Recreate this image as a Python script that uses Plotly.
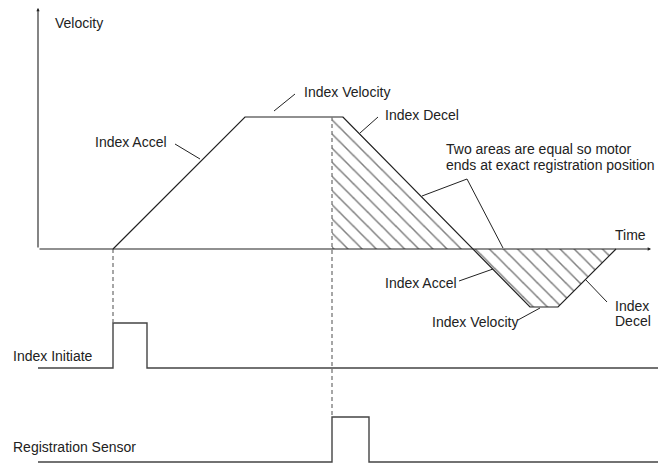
import plotly.graph_objects as go

# Perfil de velocidad (tiempo, velocidad) -- unidades del diagrama
profile_t = [75, 207, 305, 435, 492, 520, 578]
profile_v = [0, 132, 132, 0, -58, -58, 0]

# instante en que llega el sensor de registro
registration_t = 294

# Senales digitales (nivel 0/1)
initiate_t = [0, 75, 75, 109, 109, 620]
initiate_lvl = [0, 0, 1, 1, 0, 0]
sensor_t = [0, 294, 294, 331, 331, 620]
sensor_lvl = [0, 0, 1, 1, 0, 0]

# base y altura de cada fila de senal
initiate_base, sensor_base, pulse_h = -119, -213, 45

axis_end_t, axis_end_v = 613, 241

INK = '#222222'
FONT = 'Liberation Sans, Arial, sans-serif'

fig = go.Figure()

# zonas rayadas (areas iguales)
top_area_t = [registration_t, profile_t[2], profile_t[3], registration_t]
top_area_v = [profile_v[1], profile_v[2], profile_v[3], 0]
low_area_t = profile_t[3:]
low_area_v = profile_v[3:]

for xs, ys in [(top_area_t, top_area_v), (low_area_t, low_area_v)]:
    fig.add_trace(go.Scatter(
        x=xs, y=ys, fill='toself', mode='lines',
        line=dict(width=0), fillcolor='rgba(0,0,0,0)',
        fillpattern=dict(shape='\\', size=10, solidity=0.15,
                         fgcolor='#000000', bgcolor='rgba(0,0,0,0)'),
        hoverinfo='skip', showlegend=False))

# perfil
fig.add_trace(go.Scatter(x=profile_t, y=profile_v, mode='lines',
                         line=dict(color=INK, width=1.2),
                         showlegend=False, hoverinfo='skip'))

# senales
fig.add_trace(go.Scatter(x=initiate_t,
                         y=[initiate_base + pulse_h * l for l in initiate_lvl],
                         mode='lines', line=dict(color='#444444', width=1.4),
                         showlegend=False, hoverinfo='skip'))
fig.add_trace(go.Scatter(x=sensor_t,
                         y=[sensor_base + pulse_h * l for l in sensor_lvl],
                         mode='lines', line=dict(color='#444444', width=1.4),
                         showlegend=False, hoverinfo='skip'))

# lineas verticales discontinuas
fig.add_trace(go.Scatter(
    x=[initiate_t[1], initiate_t[1], None, registration_t, registration_t],
    y=[0, initiate_base + pulse_h, None, profile_v[1], sensor_base + pulse_h],
    mode='lines', line=dict(color='#777777', width=1.3, dash='4px,3px'),
    showlegend=False, hoverinfo='skip'))

# lineas guia de las etiquetas
leaders = [
    [(137, 105), (162, 90)],
    [(257, 155), (236, 138)],
    [(340, 132), (322, 116)],
    [(384, 53), (429, 70), (465, 1)],
    [(421, -32), (455, -20)],
    [(480, -71), (502, -59)],
    [(569, -53), (547, -30)],
]
lx, ly = [], []
for seg in leaders:
    for px, py in seg:
        lx.append(px)
        ly.append(py)
    lx.append(None)
    ly.append(None)
fig.add_trace(go.Scatter(x=lx, y=ly, mode='lines',
                         line=dict(color=INK, width=1),
                         showlegend=False, hoverinfo='skip'))

# ejes con flecha
for hx, hy in [(0, axis_end_v), (axis_end_t, 0)]:
    fig.add_annotation(x=hx, y=hy, ax=0, ay=0, xref='x', yref='y',
                       axref='x', ayref='y', text='', showarrow=True,
                       arrowhead=2, arrowsize=0.6, arrowwidth=1.1,
                       arrowcolor=INK)

labels = [
    ('Velocity', 15, 226),
    ('Index Accel', 55, 107),
    ('Index Velocity', 264, 157),
    ('Index Decel', 345, 134),
    ('Two areas are equal so motor', 406, 100),
    ('ends at exact registration position', 406, 84),
    ('Time', 575, 14),
    ('Index Accel', 345, -34),
    ('Index Velocity', 392, -73),
    ('Index', 575, -57),
    ('Decel', 575, -72),
    ('Index Initiate', -27, -107),
    ('Registration Sensor', -27, -198),
]
for txt, x, y in labels:
    fig.add_annotation(x=x, y=y, text=txt, showarrow=False,
                       xanchor='left', yanchor='middle',
                       font=dict(family=FONT, size=14, color=INK))

fig.update_xaxes(range=[-38, 622], visible=False, fixedrange=True)
fig.update_yaxes(range=[-214, 249], visible=False, fixedrange=True)

fig.update_layout(
    width=660, height=463,
    margin=dict(l=0, r=0, t=0, b=0),
    plot_bgcolor='white', paper_bgcolor='white',
    showlegend=False)

# quitar el margen por defecto del body para que el diagrama quede alineado
fig.write_html("out.html", config={'displayModeBar': False},
               post_script="document.body.style.margin='0';")
